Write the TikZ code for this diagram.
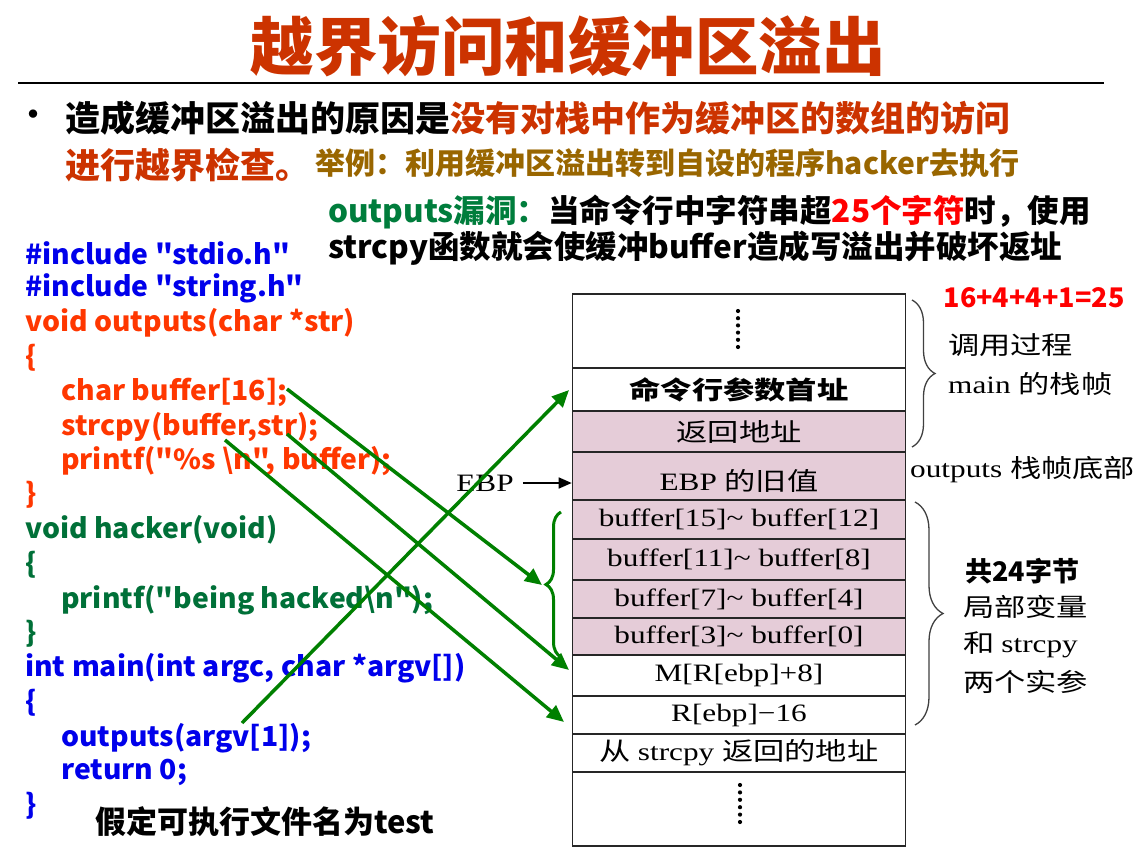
\documentclass[tikz,border=0pt]{standalone}
\usepackage{fontspec}
\usetikzlibrary{arrows.meta,decorations.pathreplacing}
% sans CJK/Latin face for slide text
\newfontfamily\hei{Noto Sans CJK SC}
% slightly widened face for the program listing
\newfontfamily\codefont{Noto Sans CJK SC}[FakeStretch=1.03]
% widened serif faces for the stack drawing
\newfontfamily\stkl{Liberation Serif}[FakeStretch=1.25]
\newfontfamily\stkc{Noto Sans CJK SC}[FakeStretch=1.25]

\definecolor{titlered}{RGB}{204,51,0}
\definecolor{codeblue}{RGB}{0,0,235}
\definecolor{codered}{RGB}{255,55,0}
\definecolor{codegreen}{RGB}{0,112,56}
\definecolor{exampleolive}{RGB}{153,102,0}
\definecolor{vulngreen}{RGB}{0,125,60}
\definecolor{arrowgreen}{RGB}{0,128,0}
\definecolor{stackpink}{RGB}{229,204,216}

\tikzset{
  txt/.style={anchor=west, inner sep=0pt},
  code/.style={txt, font=\codefont\bfseries\fontsize{27.5}{31}\selectfont},
  row/.style={draw=black!85, line width=1.6pt, minimum width=333pt, inner sep=0pt,
              font=\fontsize{25}{28}\selectfont},
  pinkrow/.style={row, fill=stackpink},
  stacklbl/.style={txt, font=\fontsize{25}{28}\selectfont},
  jump/.style={arrowgreen, line width=3.5pt, -{Triangle[length=17pt,width=15pt]}},
}

\begin{document}
\begin{tikzpicture}[x=1pt,y=-1pt]
\useasboundingbox (0,0) rectangle (1136,859);
\fill[white] (0,0) rectangle (1136,859);

% heading and rule
\node[inner sep=0pt, text=titlered, font=\hei\bfseries\fontsize{63.5}{68}\selectfont] (title) at (568,46) {越界访问和缓冲区溢出};
\draw[line width=1.2pt] (18,83) -- (1104,83);

% explanation lines
\node[font=\hei\bfseries\fontsize{30}{34}\selectfont, inner sep=0pt] (bullet) at (33,118) {•};
\node[txt, font=\hei\bfseries\fontsize{35}{40}\selectfont] (line1) at (65,118)
  {造成缓冲区溢出的原因是\textcolor{titlered}{没有对栈中作为缓冲区的数组的访问}};
\node[txt, text=titlered, font=\hei\bfseries\fontsize{35}{40}\selectfont] (line2a) at (65,165) {进行越界检查。};
\node[txt, text=exampleolive, font=\hei\bfseries\fontsize{30}{34}\selectfont] (line2b) at (315,163)
  {举例：利用缓冲区溢出转到自设的程序hacker去执行};
\node[txt, font=\hei\bfseries\fontsize{31.5}{36}\selectfont] (line3) at (328,212)
  {\textcolor{vulngreen}{outputs漏洞：}当命令行中字符串超\textcolor{red}{25个字符}时，使用};
\node[txt, font=\hei\bfseries\fontsize{31.5}{36}\selectfont] (line4) at (328,248)
  {strcpy函数就会使缓冲buffer造成写溢出并破坏返址};

% program listing
\node[code, text=codeblue]  (c1)  at (25,253) {\#include "stdio.h"};
\node[code, text=codeblue]  (c2)  at (25,288) {\#include "string.h"};
\node[code, text=codered]   (c3)  at (25,323) {void outputs(char *str)};
\node[code, text=codered]   (c4)  at (25,358) {\{};
\node[code, text=codered]   (c5)  at (61,392) {char buffer[16];};
\node[code, text=codered]   (c6)  at (61,427) {strcpy(buffer,str);};
\node[code, text=codered]   (c7)  at (61,461) {printf("\%s \textbackslash n", buffer);};
\node[code, text=codered]   (c8)  at (25,495) {\}};
\node[code, text=codegreen] (c9)  at (25,530) {void hacker(void)};
\node[code, text=codegreen] (c10) at (25,565) {\{};
\node[code, text=codegreen] (c11) at (61,600) {printf("being hacked\textbackslash n");};
\node[code, text=codegreen] (c12) at (25,634) {\}};
\node[code, text=codeblue]  (c13) at (25,668) {int main(int argc, char *argv[])};
\node[code, text=codeblue]  (c14) at (25,703) {\{};
\node[code, text=codeblue]  (c15) at (61,738) {outputs(argv[1]);};
\node[code, text=codeblue]  (c16) at (61,772) {return 0;};
\node[code, text=codeblue]  (c17) at (25,806) {\}};
\node[txt, font=\hei\bfseries\fontsize{31}{35}\selectfont] (note) at (95,822) {假定可执行文件名为test};

% stack frames
\node[row, minimum height=74pt] (r0)  at (739,331) {};
\node[row, minimum height=43pt] (r1)  at (739,389.5) {\stkc\bfseries 命令行参数首址};
\node[pinkrow, minimum height=41pt] (r2)  at (739,431.5) {\stkc 返回地址};
\node[pinkrow, minimum height=48pt] (r3)  at (739,476) {};
\node[pinkrow, minimum height=39pt] (r4)  at (739,519.5) {\stkl buffer[15]\textasciitilde{} buffer[12]};
\node[pinkrow, minimum height=41pt] (r5)  at (739,559.5) {\stkl buffer[11]\textasciitilde{} buffer[8]};
\node[pinkrow, minimum height=38pt] (r6)  at (739,599) {\stkl buffer[7]\textasciitilde{} buffer[4]};
\node[pinkrow, minimum height=37pt] (r7)  at (739,636.5) {\stkl buffer[3]\textasciitilde{} buffer[0]};
\node[row, minimum height=41pt] (r8)  at (739,675.5) {\stkl M[R[ebp]+8]};
\node[row, minimum height=38pt] (r9)  at (739,715) {\stkl R[ebp]−16};
\node[row, minimum height=38pt] (r10) at (739,753) {\stkc 从 \stkl strcpy \stkc 返回的地址};
\node[row, minimum height=74pt] (r11) at (739,809) {};
\node[inner sep=0pt, font=\fontsize{25}{28}\selectfont] (r3t) at (739,481) {\stkl EBP \stkc 的旧值};

% vertical ellipses in the open-ended frames
\foreach \k in {0,...,5} {
  \fill (738,{311+7.2*\k}) circle (2.1pt);
  \fill (740,{785+7.4*\k}) circle (2.1pt);
}

% frame pointer marker
\node[inner sep=0pt, font=\stkl\fontsize{25}{28}\selectfont] (ebp) at (485,483) {EBP};
\draw[line width=1.6pt, -{Triangle[length=13pt,width=11pt]}] ([xshift=9pt]ebp.east) -- (r3.west |- ebp.east);

% braces beside the stack
\draw[decorate, decoration={brace, amplitude=15pt}, arrowgreen, line width=3pt] (561,657) -- (561,512);
\coordinate (btip) at (542,585);
\draw[decorate, decoration={brace, amplitude=23pt}, black!75, line width=1.3pt] (912,300) -- (912,447);
\draw[decorate, decoration={brace, amplitude=28pt}, black!75, line width=1.3pt] (915,502) -- (915,725);

% annotations on the right
\node[inner sep=0pt, text=red, font=\hei\bfseries\fontsize{27}{30}\selectfont] (sum) at (1034,298) {16+4+4+1=25};
\node[stacklbl] (m1) at (948,345) {\stkc 调用过程};
\node[stacklbl] (m2) at (948,384) {\stkl main \stkc 的栈帧};
\node[stacklbl] (obot) at (910,470) {\stkl outputs \stkc 栈帧底部};
\node[txt, font=\hei\bfseries\fontsize{27}{30}\selectfont] (b24) at (965,571) {共24字节};
\node[stacklbl] (loc1) at (963,607) {\stkc 局部变量};
\node[stacklbl] (loc2) at (963,645) {\stkc 和 \stkl strcpy};
\node[stacklbl] (loc3) at (963,682) {\stkc 两个实参};

% data-flow arrows from the listing into the stack
\coordinate (s1) at (287,389);
\coordinate (s2) at (287,434);
\coordinate (s3) at (225,440);
\coordinate (s4) at (242,723);
\coordinate (e2) at (569,670);
\coordinate (e3) at (564,722);
\coordinate (e4) at (569,390);
\draw[jump] (s1) -- (btip);
\draw[jump] (s2) -- (e2);
\draw[jump] (s3) -- (e3);
\draw[jump] (s4) -- (e4);
\end{tikzpicture}
\end{document}
